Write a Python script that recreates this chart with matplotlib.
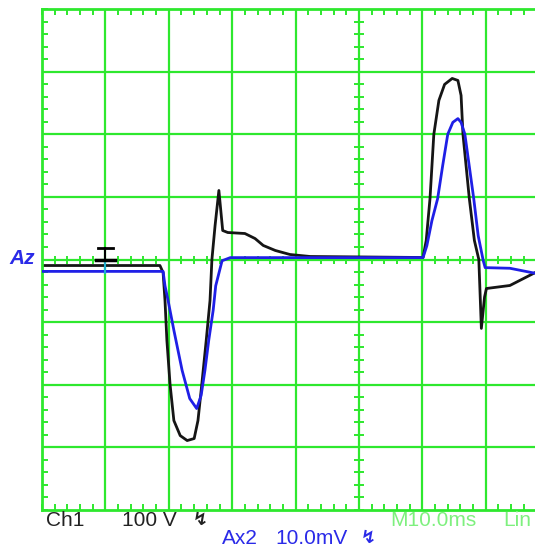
# Scope capture: Ch1 (100 V/div) and Ax2 (10 mV/div), 10 ms/div
import numpy as np
from matplotlib import pyplot as plt

plt.rcParams['font.family'] = ['Liberation Sans', 'DejaVu Sans']

green = '#2ee82e'
volts_per_div = 100.0
mv_per_div = 10.0
ms_per_div = 10.0

# Ch1 trace (black), time in ms from the left edge, volts
ch1_t = [0, 18.6, 19.1, 19.4, 19.7, 20.2, 20.8, 21.8, 22.9, 24.0, 24.6, 25.2, 25.9,
         26.5, 26.8, 27.3, 27.9, 28.2, 28.5, 29.3, 32.0, 33.6, 34.9, 36.8, 39.1, 42.3,
         60.1, 60.6, 61.2, 61.8, 62.6, 63.5, 64.7, 65.6, 66.1, 66.4, 67.4, 68.2, 68.9,
         69.3, 69.8, 70.1, 73.8, 77.8]
ch1_v = [-9.6, -9.6, -20.8, -65.5, -129.4, -199.7, -257.2, -281.2, -289.1, -285.9,
         -257.2, -199.7, -129.4, -65.5, 0, 54.3, 110.2, 78.3, 46.3, 43.1, 41.5, 33.5,
         22.4, 14.4, 8.0, 4.8, 3.2, 30.4, 97.4, 199.7, 254.0, 279.6, 289.1, 285.9,
         262.0, 199.7, 97.4, 30.4, 0, -110.0, -60.0, -46.3, -41.5, -20.8]

# Ax2 trace (blue), time in ms, millivolts
ax2_t = [0, 19.1, 19.4, 19.9, 20.8, 22.1, 23.3, 24.4, 25.1, 25.7, 26.3, 27.0, 27.4,
         28.4, 29.7, 60.1, 60.7, 61.5, 62.4, 63.2, 64.0, 64.8, 65.6, 66.1, 66.7, 68.1,
         68.8, 69.6, 69.9, 73.8, 77.8]
ax2_mv = [-1.9, -1.9, -4.2, -6.6, -11.3, -17.7, -22.2, -23.8, -21.7, -17.7, -12.9,
          -8.1, -4.2, -0.2, 0.3, 0.3, 2.2, 6.2, 9.7, 15.0, 20.0, 21.9, 22.5, 21.9,
          20.0, 9.7, 3.8, -0.2, -1.3, -1.4, -2.2]

fig = plt.figure(figsize=(5.35, 5.5), dpi=100)
# screen is 10 x 8 divisions, right part falls off the picture
ax = fig.add_axes([42 / 535, 40 / 550, 634 / 535, 501 / 550])
ax.set_xlim(0, 10)
ax.set_ylim(-4, 4)

for x in range(1, 10):
    ax.axvline(x, color=green, lw=1.6, zorder=1)
for y in range(-3, 4):
    ax.axhline(y, color=green, lw=1.6, zorder=1)
for side in ['left', 'top', 'bottom', 'right']:
    ax.spines[side].set_color(green)
    ax.spines[side].set_linewidth(2)

ax.set_xticks(np.arange(0, 10.01, 0.2))
ax.set_yticks(np.arange(-4, 4.01, 0.2))
ax.tick_params(direction='in', length=4, width=1.4, color=green, top=True,
               right=False, labelbottom=False, labelleft=False)

# tick marks along the centre graticule lines
fine_x = np.arange(0, 10.01, 0.2)
fine_y = np.arange(-4, 4.01, 0.2)
ax.plot(fine_x, np.zeros_like(fine_x), ls='none', marker='|', ms=6, mew=1.4,
        color=green, zorder=1)
ax.plot(np.full_like(fine_y, 5), fine_y, ls='none', marker='_', ms=7, mew=1.4,
        color=green, zorder=1)

ax.plot(np.array(ax2_t) / ms_per_div, np.array(ax2_mv) / mv_per_div,
        color='#1f1fe6', lw=2, zorder=3)
ax.plot(np.array(ch1_t) / ms_per_div, np.array(ch1_v) / volts_per_div,
        color='#151515', lw=2, zorder=2)

# trigger marker
ax.plot([1, 1], [0.0, 0.19], color='black', lw=1.5, zorder=4)
ax.plot([1, 1], [-0.22, 0.0], color='#20b0d0', lw=1.5, zorder=4)
ax.plot([0.88, 1.12], [0.19, 0.19], color='black', lw=2, zorder=4)
ax.plot([0.85, 1.15], [0.0, 0.0], color='black', lw=2.5, zorder=4)

fig.text(9 / 535, 1 - 259 / 550, 'Az', color='#2a2ae8', fontsize=15,
         style='italic', weight='bold', va='center', ha='left')

fs = 15
fig.text(46 / 535, 1 - 520 / 550, 'Ch1', color='#222222', fontsize=fs, va='center')
fig.text(122 / 535, 1 - 520 / 550, '100 V', color='#222222', fontsize=fs, va='center')
fig.text(193 / 535, 1 - 520 / 550, '↯', color='#222222', fontsize=13, va='center',
         weight='bold', family=['DejaVu Sans'])
fig.text(222 / 535, 1 - 538 / 550, 'Ax2', color='#2a2ae8', fontsize=fs, va='center')
fig.text(275 / 535, 1 - 538 / 550, '10.0mV', color='#2a2ae8', fontsize=fs, va='center')
fig.text(361 / 535, 1 - 538 / 550, '↯', color='#2a2ae8', fontsize=13, va='center',
         weight='bold', family=['DejaVu Sans'])
fig.text(390 / 535, 1 - 520 / 550, 'M10.0ms', color='#7ef07e', fontsize=fs, va='center')
fig.text(503 / 535, 1 - 520 / 550, 'Lin', color='#7ef07e', fontsize=fs, va='center')

fig.savefig('out.png', dpi=100)
